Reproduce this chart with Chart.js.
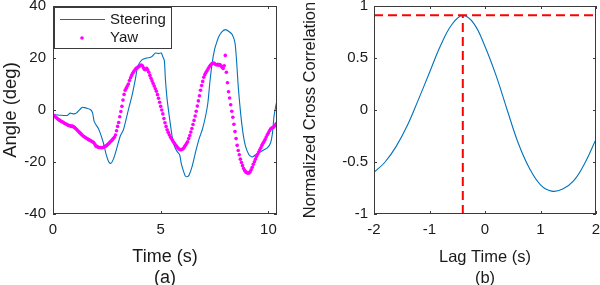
<!DOCTYPE html>
<html>
<head>
<meta charset="utf-8">
<script src="https://cdn.jsdelivr.net/npm/chart.js@4/dist/chart.umd.min.js"></script>
<style>
  body { margin: 0; background: #fff; }
  #wrap { position: relative; width: 600px; height: 285px; }
  canvas { position: absolute; top: 0; }
</style>
</head>
<body>
<div id="wrap">
  <canvas id="plotA" width="300" height="285" style="left:0"></canvas>
  <canvas id="plotB" width="300" height="285" style="left:300px"></canvas>
</div>
<script>
// (a) steering angle
var steerTime = [0, 0.3, 0.67, 0.79, 0.9, 0.98, 1.1, 1.2, 1.34, 1.45, 1.57, 1.75, 1.84, 1.91, 2.02, 2.1, 2.19, 2.34, 2.47, 2.58, 2.68, 2.81, 2.97, 3.12, 3.27, 3.39, 3.54, 3.66, 3.82, 3.9, 3.97, 4.13, 4.36, 4.5, 4.6, 4.75, 4.9, 5.03, 5.1, 5.17, 5.22, 5.3, 5.42, 5.53, 5.64, 5.76, 5.88, 5.95, 6.04, 6.15, 6.25, 6.32, 6.46, 6.61, 6.77, 6.93, 7.08, 7.19, 7.28, 7.39, 7.5, 7.6, 7.7, 7.86, 8.01, 8.17, 8.32, 8.45, 8.52, 8.6, 8.71, 8.82, 8.94, 9.1, 9.25, 9.41, 9.56, 9.8, 9.95, 10.1, 10.19, 10.26, 10.34, 10.4];
var steerAngle = [-1.8, -2.0, -2.1, -1.2, -1.4, -1.5, -1.1, -0.2, 1.0, 0.9, 0.7, 0.1, -1.2, -4.4, -6.0, -7.0, -8.8, -12.7, -17.2, -19.8, -20.6, -18.8, -14.5, -10.1, -7.6, -3.7, 1.4, 5.2, 11.7, 15.5, 17.4, 19.3, 20.0, 20.2, 20.6, 21.9, 21.7, 21.9, 20.5, 19.0, 11.7, 4.0, -3.7, -10.1, -14.0, -15.9, -17.2, -20.4, -23.0, -25.5, -25.6, -25.0, -21.7, -16.5, -11.4, -7.6, -2.5, 2.7, 10.4, 18.1, 23.2, 26.0, 28.3, 30.2, 30.9, 30.2, 29.0, 25.8, 19.3, 9.1, -1.2, -8.8, -14.0, -17.2, -18.1, -17.2, -16.5, -15.3, -14.6, -12.7, -8.8, -2.5, 1.4, 3.7];

// (a) yaw angle, one sample every 0.05 s
var yawStep = 0.05;
var yawAngle = [
  -1.8, -2.2, -2.6, -2.9, -3.3, -3.7, -3.9, -4.2, -4.4, -4.6, -4.9, -5.2, -5.4, -5.6, -5.9, -6.0, -6.1, -6.3, -6.2, -6.5,
  -6.7, -7.1, -7.5, -8.0, -8.4, -8.8, -9.2, -9.6, -10.0, -10.3, -10.6, -10.9, -11.1, -11.4, -11.6, -11.8, -12.0, -12.3, -12.6, -13.3,
  -13.9, -14.1, -14.3, -14.4, -14.4, -14.5, -14.4, -14.3, -14.1, -13.9, -13.6, -13.2, -12.8, -12.3, -11.9, -11.5, -11.0, -10.5, -9.6, -8.0,
  -6.3, -4.8, -2.6, -0.6, 1.4, 3.8, 6.0, 7.6, 8.4, 9.2, 10.0, 11.3, 12.4, 13.3, 14.1, 14.8, 15.4, 15.9, 16.2, 16.5,
  16.8, 17.0, 17.3, 17.0, 16.2, 15.6, 15.5, 16.0, 15.4, 14.5, 13.3, 12.2, 11.2, 10.2, 9.2, 8.2, 7.2, 5.9, 4.5, 3.0,
  1.4, 0.0, -1.5, -3.3, -4.9, -6.3, -7.6, -8.6, -9.5, -10.4, -11.0, -11.7, -12.4, -13.0, -13.6, -14.1, -14.6, -15.0, -15.3, -15.3,
  -15.1, -14.8, -14.2, -13.6, -12.9, -12.2, -11.0, -9.8, -8.5, -7.1, -5.6, -4.0, -2.3, -0.5, 1.5, 3.5, 5.5, 7.6, 9.4, 11.0,
  12.6, 13.6, 14.4, 15.1, 15.8, 16.5, 17.1, 17.6, 17.9, 18.1, 17.9, 17.5, 17.3, 17.6, 17.2, 17.5, 17.0, 16.4, 16.0, 17.0,
  21.0, 14.5, 10.5, 7.0, 4.6, 2.0, -0.5, -2.8, -5.5, -8.3, -11.0, -13.6, -15.6, -17.2, -18.9, -20.2, -21.4, -22.5, -23.3, -23.8,
  -24.1, -24.3, -24.2, -23.8, -23.0, -22.0, -20.9, -19.9, -18.9, -17.9, -17.0, -16.2, -15.3, -14.5, -13.6, -12.8, -12.1, -11.3, -10.4, -9.5,
  -8.8, -8.0, -7.3, -6.9, -6.8, -6.5, -6.0, -5.4, -5.0
];
var angleTicks = [-40, -20, 0, 20, 40];
var timeTicks = [0, 5, 10];

// (b) normalized cross correlation vs lag
var lagTime = [-2.0, -1.8, -1.6, -1.4, -1.2, -1.0, -0.8, -0.6, -0.4, -0.2, 0.0, 0.2, 0.4, 0.6, 0.8, 1.0, 1.2, 1.4, 1.6, 1.8, 2.0];
var xcorr = [-0.60, -0.50, -0.35, -0.15, 0.10, 0.36, 0.62, 0.82, 0.91, 0.83, 0.61, 0.33, 0.0, -0.32, -0.56, -0.72, -0.78, -0.76, -0.68, -0.51, -0.28];
var lagTicks = [-2, -1, 0, 1, 2];
var corrTicks = [-1, -0.5, 0, 0.5, 1];
var peakLag = -0.4;
var peakCorr = 0.91;

var FONT = 'Liberation Sans, Arial, sans-serif';
var INK = '#1a1a1a';

function pts(xs, ys) {
  return xs.map(function(x, i) { return {x: x, y: ys[i]}; });
}
var yawPts = yawAngle.map(function(v, i) { return {x: +(i * yawStep).toFixed(2), y: v}; });

// MATLAB style box with inward tick marks
var frame = {
  id: 'frame',
  afterDatasetsDraw: function(chart) {
    var ctx = chart.ctx, a = chart.chartArea, sx = chart.scales.x, sy = chart.scales.y;
    ctx.save();
    ctx.strokeStyle = '#3a3a3a';
    ctx.lineWidth = 1;
    ctx.strokeRect(a.left + 0.5, a.top + 0.5, a.right - a.left - 1, a.bottom - a.top - 1);
    ctx.beginPath();
    sx.ticks.forEach(function(t) {
      var p = Math.round(sx.getPixelForValue(t.value)) + 0.5;
      ctx.moveTo(p, a.bottom); ctx.lineTo(p, a.bottom - 3);
      ctx.moveTo(p, a.top); ctx.lineTo(p, a.top + 3);
    });
    sy.ticks.forEach(function(t) {
      var p = Math.round(sy.getPixelForValue(t.value)) + 0.5;
      ctx.moveTo(a.left, p); ctx.lineTo(a.left + 3, p);
      ctx.moveTo(a.right, p); ctx.lineTo(a.right - 3, p);
    });
    ctx.stroke();
    ctx.restore();
  }
};

// legend box in the top left corner of plot (a)
var boxLegend = {
  id: 'boxLegend',
  afterDraw: function(chart) {
    var ctx = chart.ctx, a = chart.chartArea, ds = chart.data.datasets;
    var x0 = a.left + 1, y0 = a.top + 1;
    ctx.save();
    ctx.fillStyle = '#fff';
    ctx.fillRect(x0, y0, 118, 42);
    ctx.strokeStyle = '#3a3a3a';
    ctx.lineWidth = 1;
    ctx.strokeRect(x0 + 0.5, y0 + 0.5, 117, 41);
    ctx.strokeStyle = ds[0].borderColor;
    ctx.beginPath();
    ctx.moveTo(x0 + 6, y0 + 12.5); ctx.lineTo(x0 + 51, y0 + 12.5);
    ctx.stroke();
    ctx.fillStyle = ds[1].pointBackgroundColor;
    ctx.beginPath();
    ctx.arc(x0 + 28, y0 + 31, 1.8, 0, Math.PI * 2);
    ctx.fill();
    ctx.fillStyle = INK;
    ctx.font = '15px ' + FONT;
    ctx.textBaseline = 'middle';
    ctx.fillText(ds[0].label, x0 + 56, y0 + 13);
    ctx.fillText(ds[1].label, x0 + 56, y0 + 31);
    ctx.restore();
  }
};

function axisOpts(min, max, ticks, title, titleSize, fit, pad) {
  return {
    type: 'linear', min: min, max: max,
    afterBuildTicks: function(s) { s.ticks = ticks.map(function(v) { return {value: v}; }); },
    afterFit: function(s) {
      if (s.isHorizontal()) s.height = fit; else s.width = fit;
      s.paddingLeft = 0; s.paddingRight = 0; s.paddingTop = 0; s.paddingBottom = 0;
    },
    grid: {display: false, drawTicks: false},
    border: {display: false},
    ticks: {font: {family: FONT, size: 15}, color: INK, padding: pad, maxRotation: 0,
            callback: function(v) { return String(v); }},
    title: {display: true, text: title, color: INK,
            font: {family: FONT, size: titleSize, lineHeight: 21 / titleSize},
            padding: {top: 0, bottom: -4}}
  };
}

new Chart(document.getElementById('plotA').getContext('2d'), {
  type: 'scatter',
  data: {
    datasets: [{
      label: 'Steering',
      data: pts(steerTime, steerAngle),
      showLine: true,
      borderColor: '#0072BD',
      borderWidth: 1.1,
      pointRadius: 0,
      tension: 0.2,
      order: 1
    }, {
      label: 'Yaw',
      data: yawPts,
      showLine: false,
      pointRadius: 1.8,
      pointBorderWidth: 0,
      pointBackgroundColor: '#FF00FF',
      order: 0
    }]
  },
  options: {
    responsive: false,
    devicePixelRatio: 1,
    animation: false,
    layout: {padding: {left: 0, right: 23, top: 6, bottom: 0}},
    plugins: {legend: {display: false}, tooltip: {enabled: false}},
    scales: {
      x: axisOpts(0, 10.4, timeTicks, ['Time (s)', '(a)'], 18, 71, 7),
      y: axisOpts(-40, 40, angleTicks, 'Angle (deg)', 18.5, 53, 7)
    }
  },
  plugins: [frame, boxLegend]
});

new Chart(document.getElementById('plotB').getContext('2d'), {
  type: 'scatter',
  data: {
    datasets: [{
      label: 'Cross correlation',
      data: pts(lagTime, xcorr),
      showLine: true,
      borderColor: '#0072BD',
      borderWidth: 1.1,
      pointRadius: 0,
      tension: 0.4,
      order: 1
    }, {
      label: 'Peak value',
      data: [{x: -2, y: peakCorr}, {x: 2, y: peakCorr}],
      showLine: true,
      borderColor: '#FF0000',
      borderWidth: 2,
      borderDash: [9, 5],
      pointRadius: 0,
      order: 0
    }, {
      label: 'Peak lag',
      data: [{x: peakLag, y: -1}, {x: peakLag, y: peakCorr}],
      showLine: true,
      borderColor: '#FF0000',
      borderWidth: 2,
      borderDash: [9, 5],
      pointRadius: 0,
      order: 0
    }]
  },
  options: {
    responsive: false,
    devicePixelRatio: 1,
    animation: false,
    layout: {padding: {left: 0, right: 4, top: 6, bottom: 0}},
    plugins: {legend: {display: false}, tooltip: {enabled: false}},
    scales: {
      x: axisOpts(-2, 2, lagTicks, ['Lag Time (s)', '(b)'], 16.5, 71, 7),
      y: axisOpts(-1, 1, corrTicks, 'Normalized Cross Correlation', 16.5, 74, 6)
    }
  },
  plugins: [frame]
});
</script>
</body>
</html>
